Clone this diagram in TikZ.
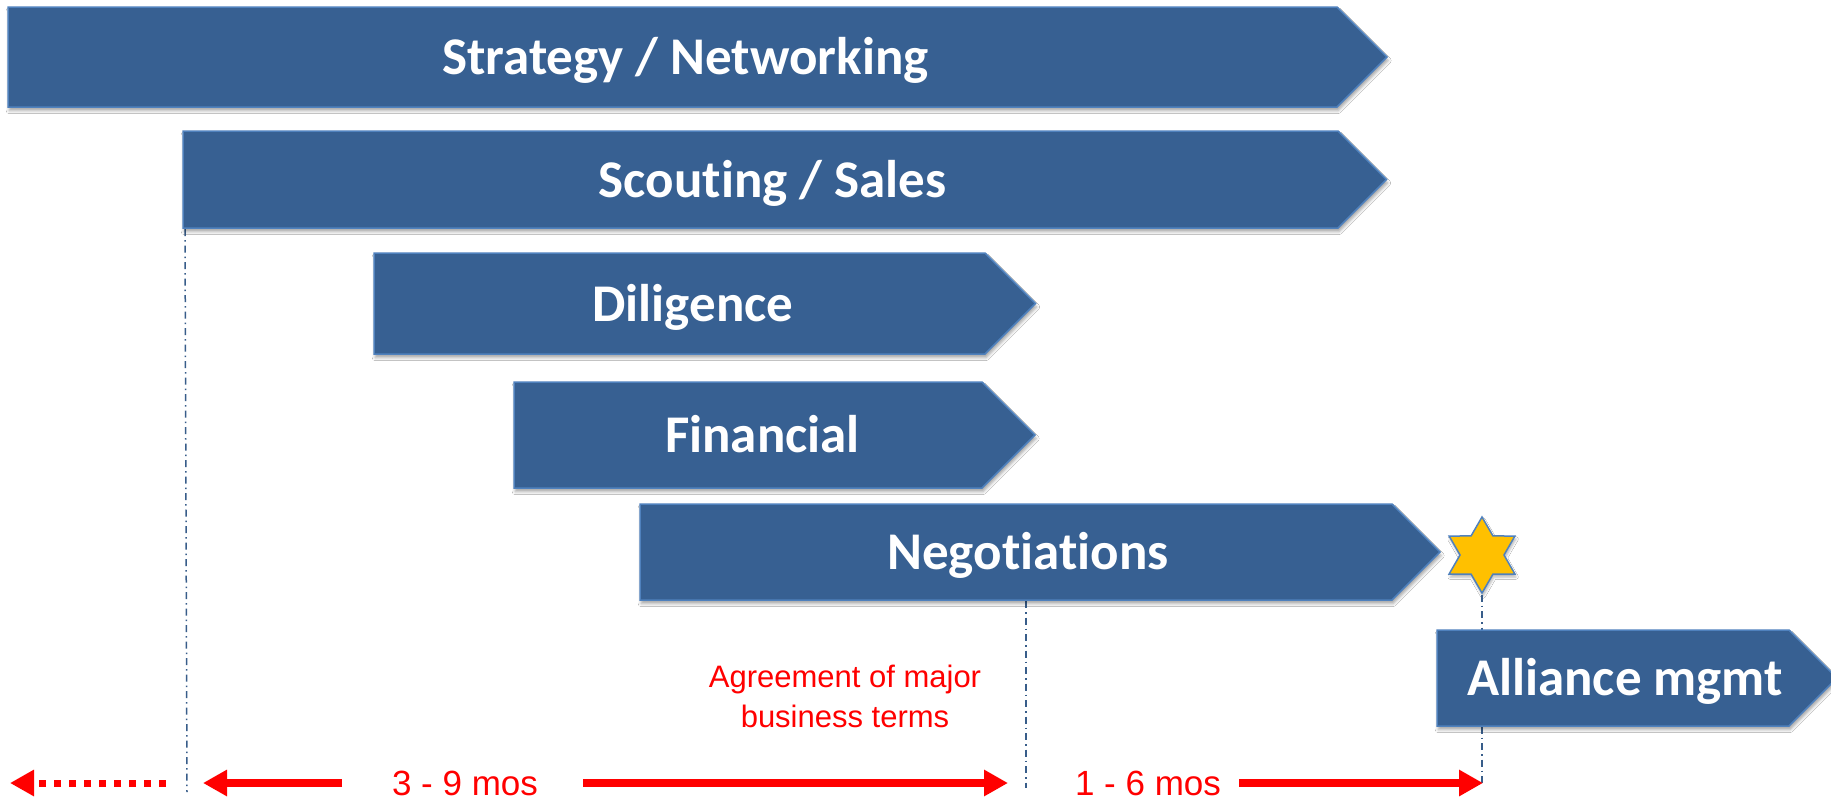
\documentclass[tikz,border=0pt]{standalone}
\usepackage{fontspec}
\newfontfamily\barfont{Carlito}[RawFeature={-liga;-dlig;-clig}]
\newfontfamily\redfont{Liberation Sans}
\usetikzlibrary{arrows.meta,shapes.geometric,shadows.blur}
\definecolor{barfill}{HTML}{376092}
\definecolor{barline}{HTML}{4F81BD}
\definecolor{guide}{HTML}{385D8A}
\definecolor{starfill}{HTML}{FFC000}
\tikzset{
  barshape/.style={fill=barfill, draw=barline, line width=0.75pt, line join=miter,
    blur shadow={shadow xshift=0.6pt, shadow yshift=-1.8pt, shadow blur radius=1.5pt, shadow opacity=35}},
  barlabel/.style={text=white, font=\barfont\bfseries\fontsize{26.5}{30}\selectfont, anchor=base, inner sep=0pt},
  guideline/.style={draw=guide, line width=0.75pt, dash pattern=on 3.5pt off 2pt on 0.75pt off 2pt},
  redarrow/.style={draw=red, line width=4pt, -{Triangle[length=12pt,width=12.5pt]}},
  dotarrow/.style={draw=red, line width=3.5pt, dash pattern=on 3.5pt off 4pt, -{Triangle[length=12pt,width=12.5pt]}},
  redlabel/.style={text=red, font=\redfont\fontsize{17.5}{21}\selectfont, anchor=base, inner sep=0pt},
  agreelabel/.style={text=red, font=\redfont\fontsize{15.5}{20}\selectfont, align=center, inner sep=0pt},
  starmark/.style={star, star points=6, star point ratio=1.73, minimum size=38pt, inner sep=0pt,
    fill=starfill, draw=barline, line width=0.75pt,
    blur shadow={shadow xshift=0.5pt, shadow yshift=-1.5pt, shadow blur radius=1.2pt, shadow opacity=30}},
}
% #1 name, #2 left, #3 top, #4 right end of rectangle, #5 bottom, #6 text
\newcommand\chevbar[6]{%
  \path[barshape] (#2,#3) -- (#4,#3) -- ({#4+(#5-#3)/2},{(#3+#5)/2}) -- (#4,#5) -- (#2,#5) -- cycle;
  \node[barlabel] (#1) at ({(#2+#4+(#5-#3)/2)/2-12},{(#3+#5)/2+17.5}) {#6};
}
\begin{document}
\begin{tikzpicture}[x=0.5pt,y=-0.5pt]
\fill[white] (0,0) rectangle (1831,799);
\useasboundingbox (0,0) rectangle (1831,799);

% guide lines
\coordinate (g1top) at (185,229);
\coordinate (g1bot) at (187,792);
\coordinate (g2top) at (1026,601);
\coordinate (g2bot) at (1026,788);
\coordinate (g3bot) at (1482,783);
\draw[guideline] (g1top) -- (g1bot);
\draw[guideline] (g2top) -- (g2bot);

% bars
\chevbar{strategy}{8}{7}{1337}{107}{Strategy / Networking}
\chevbar{scouting}{183}{131}{1338}{228}{Scouting / Sales}
\chevbar{diligence}{374}{253}{985}{354}{Diligence}
\chevbar{financial}{514}{382}{982}{488}{Financial}
\chevbar{negotiations}{640}{504}{1392}{600}{Negotiations}

% star and its guide line
\node[starmark] (star) at (1482,555) {};
\draw[guideline] (star.south) -- (g3bot);

\chevbar{alliance}{1437}{630}{1789}{726}{Alliance mgmt}

% agreement text
\node[agreelabel] (agree) at (845,696) {Agreement of major\\business terms};

% timeline labels
\node[redlabel] (t39) at (465,795) {3 - 9 mos};
\node[redlabel] (t16) at (1148,795) {1 - 6 mos};

% timeline arrows
\coordinate (a0s) at (166,783);
\coordinate (a0e) at (10,783);
\coordinate (a1s) at (342,783);
\coordinate (a1e) at (203,783);
\coordinate (a2s) at (583,783);
\coordinate (a2e) at (1008,783);
\coordinate (a3s) at (1239,783);
\coordinate (a3e) at (1483,783);
\draw[dotarrow] (a0s) -- (a0e);
\draw[redarrow] (a1s) -- (a1e);
\draw[redarrow] (a2s) -- (a2e);
\draw[redarrow] (a3s) -- (a3e);
\end{tikzpicture}
\end{document}
